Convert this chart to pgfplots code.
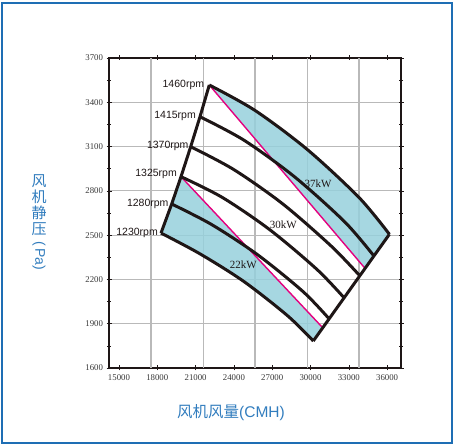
\documentclass[border=0pt]{standalone}
\usepackage{pgfplots}
\pgfplotsset{compat=1.18}
\usepackage{fontspec}
\setmainfont{Liberation Serif}
\newfontfamily\arial{Liberation Sans}
\newfontfamily\cjk{Noto Sans CJK SC}
\definecolor{bord}{RGB}{30,110,180}
\definecolor{labblue}{RGB}{50,125,190}
\definecolor{fillc}{RGB}{150,208,220}
\definecolor{mag}{RGB}{228,0,127}
\definecolor{curve}{RGB}{30,22,22}
\definecolor{gridc}{RGB}{185,185,185}
\definecolor{tickc}{RGB}{55,55,55}
\begin{document}
\begin{tikzpicture}
\draw[bord, line width=2pt] (2pt,3pt) rectangle (452pt,443pt);
\begin{axis}[at={(109pt,78pt)}, anchor=south west, width=292pt, height=310pt, scale only axis,
 xmin=14217, xmax=37089, ymin=1600, ymax=3700,
 xtick={15000,18000,21000,24000,27000,30000,33000,36000},
 ytick={1600,1900,2200,2500,2800,3100,3400,3700},
 minor y tick num=1,
 ymajorgrids,
 extra x ticks={17507,21603,25653,29750,33799},
 extra x tick labels={},
 extra x tick style={xmajorgrids=true, major tick length=0pt},
 grid style={gridc, line width=1.2pt},
 axis line style={curve, line width=2.8pt},
 tick style={curve, line width=0.6pt},
 major tick length=5pt, minor tick length=4pt, tick align=center,
 scaled ticks=false,
 xticklabel style={/pgf/number format/1000 sep={}, /pgf/number format/assume math mode=true, font=\fontsize{8.8}{10}\selectfont, text=tickc, yshift=-1pt},
 yticklabel style={/pgf/number format/1000 sep={}, /pgf/number format/assume math mode=true, font=\fontsize{8.8}{10}\selectfont, text=tickc},
]
% shaded zones
\addplot[fill=fillc, fill opacity=0.85, draw=none, smooth] coordinates {(22073,3517) (25650,3345) (29750,3080) (33800,2755) (36180,2506)} -- (axis cs:34300,2272) -- cycle;
\addplot[fill=fillc, fill opacity=0.85, draw=none, smooth] coordinates {(18290,2514) (21330,2374) (24780,2186) (28190,1955) (30220,1783)} -- (axis cs:30930,1875) -- (axis cs:19857,2896) -- (axis cs:19128,2711) -- cycle;
% magenta lines
\addplot[mag, line width=1.4pt] coordinates {(22073,3517) (34300,2272)};
\addplot[mag, line width=1.4pt] coordinates {(19857,2896) (30930,1875)};
% rpm curves
\addplot[curve, line width=3pt, smooth] coordinates {(22073,3517) (25650,3345) (29750,3080) (33800,2755) (36180,2506)};
\addplot[curve, line width=3pt, smooth] coordinates {(21345,3302) (24810,3142) (28780,2893) (32700,2588) (34974,2358)};
\addplot[curve, line width=3pt, smooth] coordinates {(20616,3099) (23975,2945) (27820,2712) (31620,2426) (33880,2223)};
\addplot[curve, line width=3pt, smooth] coordinates {(19857,2896) (23100,2755) (26820,2536) (30490,2269) (32648,2074)};
\addplot[curve, line width=3pt, smooth] coordinates {(19128,2711) (22270,2571) (25860,2367) (29410,2118) (31449,1934)};
\addplot[curve, line width=3pt, smooth] coordinates {(18290,2514) (21330,2374) (24780,2186) (28190,1955) (30220,1783)};
% boundaries
\addplot[curve, line width=3pt] coordinates {(18290,2514) (19128,2711) (19857,2896) (20616,3099) (21345,3302) (22073,3517)};
\addplot[curve, line width=3pt] coordinates {(30220,1783) (36180,2506)};
% labels
\node[anchor=east, font=\arial\fontsize{10.5}{12}\selectfont, text=curve, inner sep=0pt, xshift=-5pt] at (axis cs:22073,3517) {1460rpm};
\node[anchor=east, font=\arial\fontsize{10.5}{12}\selectfont, text=curve, inner sep=0pt, xshift=-4pt, yshift=1pt] at (axis cs:21345,3302) {1415rpm};
\node[anchor=east, font=\arial\fontsize{10.5}{12}\selectfont, text=curve, inner sep=0pt, xshift=-2pt, yshift=1pt] at (axis cs:20616,3099) {1370rpm};
\node[anchor=east, font=\arial\fontsize{10.5}{12}\selectfont, text=curve, inner sep=0pt, xshift=-4pt, yshift=3pt] at (axis cs:19857,2896) {1325rpm};
\node[anchor=east, font=\arial\fontsize{10.5}{12}\selectfont, text=curve, inner sep=0pt, xshift=-3pt] at (axis cs:19128,2711) {1280rpm};
\node[anchor=east, font=\arial\fontsize{10.5}{12}\selectfont, text=curve, inner sep=0pt, xshift=-3pt] at (axis cs:18290,2514) {1230rpm};
\node[font=\fontsize{11}{12}\selectfont, text=curve, inner sep=0pt] at (axis cs:30588,2850) {37kW};
\node[font=\fontsize{11}{12}\selectfont, text=curve, inner sep=0pt] at (axis cs:27870,2569) {30kW};
\node[font=\fontsize{11}{12}\selectfont, text=curve, inner sep=0pt] at (axis cs:24737,2298) {22kW};
\end{axis}
\node[text=labblue, font=\fontsize{15.5}{17}\selectfont] at (231pt,33.5pt) {\cjk 风机风量\arial(CMH)};
\node[text=labblue, font=\cjk\fontsize{15}{16.3}\selectfont, anchor=north, inner sep=0pt, align=center] at (39pt,272pt) {风\\机\\静\\压};
\node[text=labblue, font=\arial\fontsize{14}{16}\selectfont, rotate=-90, anchor=west, inner sep=0pt] at (39pt,205pt) {(\,Pa)};
\useasboundingbox (0,0) rectangle (454pt,446pt);
\end{tikzpicture}
\end{document}
